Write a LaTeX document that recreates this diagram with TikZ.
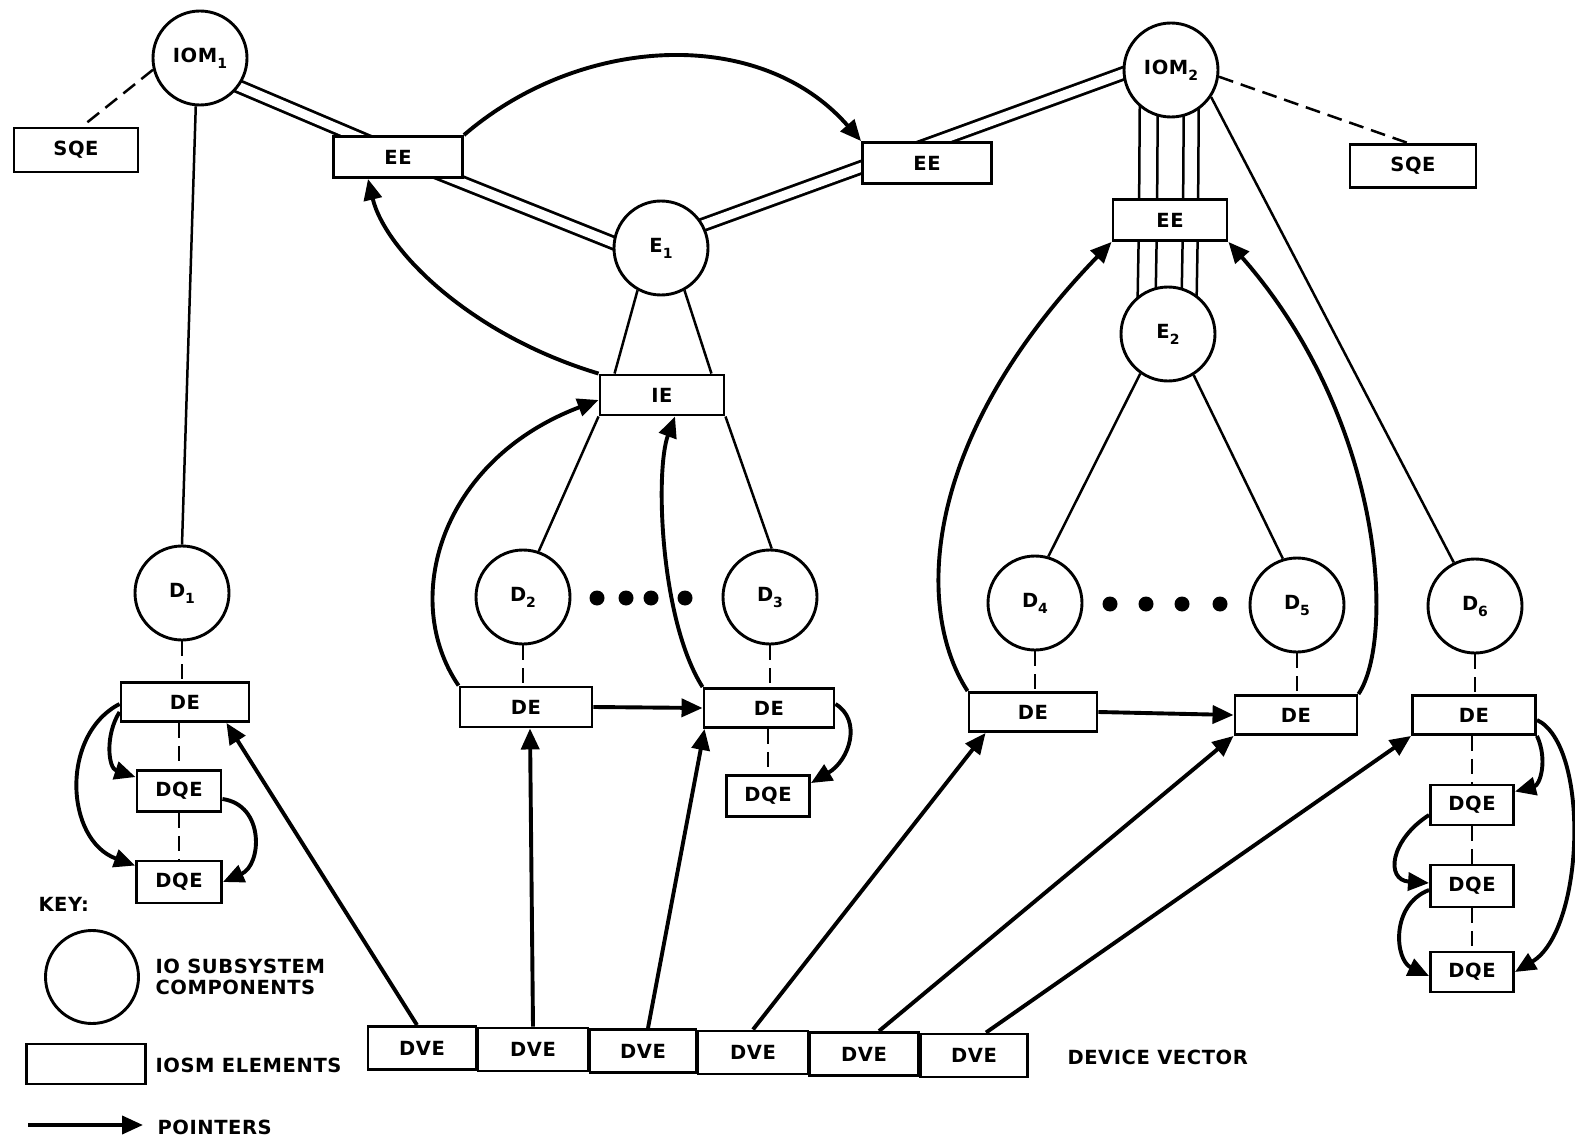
\documentclass[tikz,border=0pt]{standalone}
\usepackage{fontspec}
\setmainfont{DejaVu Sans}[LetterSpace=3]
\usetikzlibrary{arrows.meta}
\pgfdeclarelayer{background}
\pgfsetlayers{background,main}
% lowered index digit, as in IOM1, E2, D4
\newcommand\idx[1]{\raisebox{-6pt}{\fontsize{14}{14}\selectfont #1}}
\begin{document}
\begin{tikzpicture}[x=1pt,y=-1pt,
  every node/.style={font=\fontsize{19.5}{21.5}\selectfont\bfseries},
  comp/.style={circle, draw, fill=white, line width=2.9pt, minimum size=94pt, inner sep=0pt},
  elem/.style={rectangle, draw, fill=white, line width=2.9pt, minimum height=41pt, inner sep=0pt},
  conn/.style={line width=2.5pt},
  dsh/.style={line width=2.5pt, dash pattern=on 15pt off 8pt},
  dbl/.style={double, double distance=9pt, line width=2.8pt},
  ptr/.style={line width=3.9pt, -{Triangle[length=21pt,width=18pt]}},
  blob/.style={circle, fill, inner sep=0pt, minimum size=15pt}]
\useasboundingbox (0,0) rectangle (1575,1142);

% ---------- IO subsystem components ----------
\node[comp] (IOM1) at (200,58)   {IOM\idx{1}};
\node[comp] (IOM2) at (1171,70)  {IOM\idx{2}};
\node[comp] (E1)   at (661,248)  {E\idx{1}};
\node[comp] (E2)   at (1168,334) {E\idx{2}};
\node[comp] (D1)   at (182,593)  {D\idx{1}};
\node[comp] (D2)   at (523,597)  {D\idx{2}};
\node[comp] (D3)   at (770,597)  {D\idx{3}};
\node[comp] (D4)   at (1035,603) {D\idx{4}};
\node[comp] (D5)   at (1297,605) {D\idx{5}};
\node[comp] (D6)   at (1475,606) {D\idx{6}};

% ---------- IOSM elements ----------
\node[elem, minimum width=124pt, minimum height=44pt] (SQE1) at (76,150)   {SQE};
\node[elem, minimum width=126pt, minimum height=43pt] (SQE2) at (1413,166) {SQE};
\node[elem, minimum width=129pt] (EE1) at (398,157)  {EE};
\node[elem, minimum width=129pt] (EE2) at (927,163)  {EE};
\node[elem, minimum width=114pt] (EE3) at (1170,220) {EE};
\node[elem, minimum width=124pt, minimum height=40pt] (IE) at (662,395) {IE};

\node[elem, minimum width=128pt, minimum height=39pt] (DE1) at (185,702) {DE};
\node[elem, minimum width=84pt] (DQE1a) at (179,791) {DQE};
\node[elem, minimum width=85pt, minimum height=42pt] (DQE1b) at (179,882) {DQE};

\node[elem, minimum width=132pt, minimum height=40pt] (DE2) at (526,707) {DE};
\node[elem, minimum width=130pt, minimum height=39pt] (DE3) at (769,708) {DE};
\node[elem, minimum width=83pt] (DQE3) at (768,796) {DQE};

\node[elem, minimum width=128pt, minimum height=39pt] (DE4) at (1033,712) {DE};
\node[elem, minimum width=122pt, minimum height=39pt] (DE5) at (1296,715) {DE};

\node[elem, minimum width=123pt, minimum height=39pt] (DE6) at (1474,715) {DE};
\node[elem, minimum width=83pt, minimum height=40pt] (DQE6a) at (1472,805) {DQE};
\node[elem, minimum width=83pt, minimum height=42pt] (DQE6b) at (1472,886) {DQE};
\node[elem, minimum width=83pt, minimum height=40pt] (DQE6c) at (1472,972) {DQE};

% ---------- device vector ----------
\node[elem, minimum width=108pt, minimum height=43pt] (DVE1) at (422,1048)   {DVE};
\node[elem, minimum width=110pt, minimum height=43pt] (DVE2) at (533,1049.5) {DVE};
\node[elem, minimum width=106pt, minimum height=43pt] (DVE3) at (643,1051)   {DVE};
\node[elem, minimum width=110pt, minimum height=43pt] (DVE4) at (753,1052.5) {DVE};
\node[elem, minimum width=109pt, minimum height=43pt] (DVE5) at (864,1054)   {DVE};
\node[elem, minimum width=107pt, minimum height=43pt] (DVE6) at (974,1055.5) {DVE};
\node[anchor=west] (DV) at (1064,1057) {DEVICE VECTOR};

% ---------- ellipsis dots ----------
\node[blob] (dA1) at (597,598) {};
\node[blob] (dA2) at (626,598) {};
\node[blob] (dA3) at (651,598) {};
\node[blob] (dA4) at (685,598) {};
\node[blob] (dB1) at (1110,604) {};
\node[blob] (dB2) at (1146,604) {};
\node[blob] (dB3) at (1182,604) {};
\node[blob] (dB4) at (1220,604) {};

% ---------- key ----------
\node[anchor=west] (key) at (35,904) {KEY:};
\node[comp, minimum size=93pt] (kcirc) at (92,977) {};
\node[anchor=west, align=left] (kcomp) at (152,977) {IO SUBSYSTEM\\COMPONENTS};
\node[elem, minimum width=119pt, minimum height=40pt] (krect) at (86,1064) {};
\node[anchor=west] (kelem) at (152,1065) {IOSM ELEMENTS};
\node[anchor=west] (kptr) at (154,1127) {POINTERS};
\coordinate (kA) at (28,1125);
\draw[ptr] (kA) -- ([xshift=-11pt,yshift=2pt]kptr.west);

% ---------- structural links (under the nodes) ----------
\begin{pgfonlayer}{background}
\fill[white] (0,0) rectangle (1575,1142);
\draw[dsh] (IOM1.194) -- ([xshift=6pt]SQE1.north);
\draw[dsh] (IOM2.352) -- ([xshift=-5pt]SQE2.north);
\draw[conn] (IOM1.265) -- (D1.north);
\draw[dbl] ([yshift=-12pt]IOM1.center) -- ([xshift=7pt]EE1.center);
\draw[dbl] (EE1.center) -- ([yshift=-14pt]E1.center);
\draw[dbl] ([yshift=8pt]E1.center) -- ([xshift=-32pt,yshift=8pt]EE2.center);
\draw[dbl] ([yshift=14pt]IOM2.center) -- ([xshift=-50pt]EE2.center);
\foreach \s in {-31,-13,13,28}
  \draw[conn] ([xshift=\s pt]IOM2.center) -- ([xshift=\s pt]EE3.center) -- ([xshift=\s pt]E2.center);
\draw[conn] (E1.241) -- ([xshift=16pt]IE.north west);
\draw[conn] (E1.299) -- ([xshift=-14pt]IE.north east);
\draw[conn] (IE.south west) -- (D2.71);
\draw[conn] (IE.south east) -- (D3.88);
\draw[conn] (E2.235) -- (D4.74);
\draw[conn] (E2.302) -- (D5.107);
\draw[conn] (IOM2.326) -- (D6.116);
% device to device element to queue elements
\draw[dsh] (D1.south) -- (D1.south |- DE1.north);
\draw[dsh] (DQE1a.north |- DE1.south) -- (DQE1a.north);
\draw[dsh] (DQE1a.south) -- (DQE1b.north);
\draw[dsh] (D2.south) -- (D2.south |- DE2.north);
\draw[dsh] (D3.south) -- (D3.south |- DE3.north);
\draw[dsh] (DQE3.north |- DE3.south) -- (DQE3.north);
\draw[dsh] (D4.south) -- (D4.south |- DE4.north);
\draw[dsh] (D5.south) -- (D5.south |- DE5.north);
\draw[dsh] (D6.south) -- (D6.south |- DE6.north);
\draw[dsh] (DQE6a.north |- DE6.south) -- (DQE6a.north);
\draw[dsh] (DQE6a.south) -- (DQE6b.north);
\draw[dsh] (DQE6b.south) -- (DQE6c.north);
\end{pgfonlayer}

% ---------- pointers ----------
\draw[ptr] (EE1.north east) .. controls (580,35) and (760,25) .. (EE2.north west);
\draw[ptr] (IE.north west) .. controls (470,335) and (385,250) .. ([xshift=-30pt]EE1.south);
\draw[ptr] (DE2.north west) .. controls (400,600) and (440,460) .. ([yshift=-5pt]IE.west);
\draw[ptr] (DE3.north west) .. controls (660,620) and (655,470) .. ([xshift=13pt]IE.south);
\draw[ptr] (DE2.east) -- (DE3.west);
\draw[ptr] ([yshift=4pt]DE3.east) .. controls (862,720) and (850,760) .. ([yshift=-9pt]DQE3.north east);
\draw[ptr] (DE4.east) -- (DE5.west);
\draw[ptr] (DE4.north west) .. controls (915,610) and (920,440) .. (EE3.south west);
\draw[ptr] (DE5.north east) .. controls (1395,640) and (1385,420) .. (EE3.south east);

\draw[ptr] ([yshift=-10pt]DE1.west) .. controls (105,735) and (108,768) .. ([yshift=-8pt]DQE1a.north west);
\draw[ptr] ([yshift=-2pt]DE1.west) .. controls (60,735) and (65,840) .. ([yshift=-6pt]DQE1b.north west);
\draw[ptr] ([yshift=-8pt]DQE1a.east) .. controls (265,805) and (262,865) .. (DQE1b.east);

\draw[ptr] (DE6.south east) .. controls (1548,760) and (1540,785) .. ([yshift=-8pt]DQE6a.north east);
\draw[ptr] ([yshift=-5pt]DE6.east) .. controls (1590,745) and (1585,930) .. (DQE6c.east);
\draw[ptr] ([yshift=-10pt]DQE6a.west) .. controls (1390,840) and (1385,880) .. ([yshift=3pt]DQE6b.west);
\draw[ptr] ([yshift=-4pt]DQE6b.west) .. controls (1390,905) and (1395,960) .. ([yshift=-4pt]DQE6c.west);

\draw[ptr] ([xshift=-5pt]DVE1.north) -- ([xshift=-24pt]DE1.south east);
\draw[ptr] (DVE2.north) -- ([xshift=4pt]DE2.south);
\draw[ptr] ([xshift=5pt]DVE3.north) -- ([xshift=2pt]DE3.south west);
\draw[ptr] (DVE4.north) -- ([xshift=18pt]DE4.south west);
\draw[ptr] ([xshift=15pt]DVE5.north) -- (DE5.south west);
\draw[ptr] ([xshift=12pt]DVE6.north) -- (DE6.south west);
\end{tikzpicture}
\end{document}
